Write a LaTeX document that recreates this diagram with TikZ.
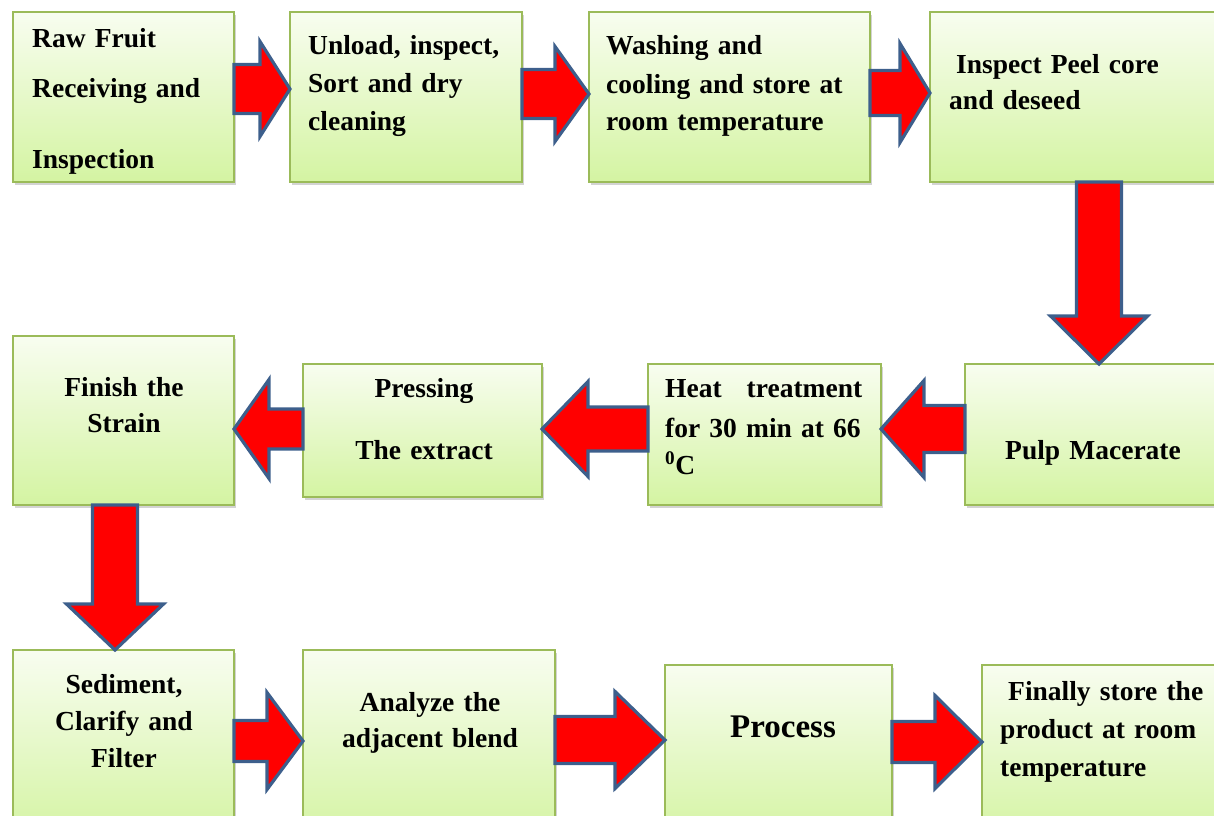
\documentclass[tikz,border=0pt]{standalone}
\usepackage{fontspec}
\setmainfont{Liberation Serif}
\usetikzlibrary{calc,shadows}
\definecolor{stepgreen}{RGB}{155,187,89}
\definecolor{steptop}{RGB}{248,253,240}
\definecolor{stepbottom}{RGB}{212,244,162}
\definecolor{flowred}{RGB}{255,0,0}
\definecolor{flowblue}{RGB}{61,95,140}

\begin{document}
\begin{tikzpicture}[x=1pt,y=-1pt,
  stepbox/.style={rectangle,anchor=north west,draw=stepgreen,line width=1.2pt,
    top color=steptop,bottom color=stepbottom,inner sep=0pt,outer sep=0pt,
    drop shadow={shadow xshift=1.5pt,shadow yshift=-2.5pt,opacity=.35}},
  steptext/.style={inner sep=0pt,text width=#1,font=\fontsize{27.5}{38}\selectfont\bfseries},
  steptext/.default=250pt,
  fat/.style n args={3}{draw=flowblue,fill=flowred,line width=3.2pt,
    to path={let \p1=(\tikztostart),\p2=(\tikztotarget),
      \n1={atan2(\y2-\y1,\x2-\x1)},\n2={veclen(\x2-\x1,\y2-\y1)-#3} in
      (\p1) ++(\n1+90:#1pt) -- ++(\n1:\n2) -- ++(\n1+90:#2pt-#1pt) -- (\p2)
      -- ($(\p2)+(\n1+180:#3pt)+(\n1-90:#2pt)$) -- ++(\n1+90:#2pt-#1pt)
      -- ++(\n1+180:\n2) -- cycle}}
]
\useasboundingbox (0,0) rectangle (1214,815);

% boxes, row by row
\node[stepbox,minimum width=221pt,minimum height=170pt] (b1) at (13,12) {};
\node[stepbox,minimum width=232pt,minimum height=170pt] (b2) at (290,12) {};
\node[stepbox,minimum width=281pt,minimum height=170pt] (b3) at (589,12) {};
\node[stepbox,minimum width=300pt,minimum height=170pt] (b4) at (930,12) {};
\node[stepbox,minimum width=221pt,minimum height=169pt] (b5) at (13,336) {};
\node[stepbox,minimum width=239pt,minimum height=133pt] (b6) at (303,364) {};
\node[stepbox,minimum width=233pt,minimum height=141pt] (b7) at (648,364) {};
\node[stepbox,minimum width=270pt,minimum height=141pt] (b8) at (965,364) {};
\node[stepbox,minimum width=221pt,minimum height=190pt] (b9) at (13,650) {};
\node[stepbox,minimum width=252pt,minimum height=190pt] (b10) at (303,650) {};
\node[stepbox,minimum width=227pt,minimum height=175pt] (b11) at (665,665) {};
\node[stepbox,minimum width=260pt,minimum height=175pt] (b12) at (982,665) {};

% texts
\node[steptext,anchor=base west,align=left] (t1) at (32,47)
  {Raw Fruit\\[12pt]Receiving and\\[33pt]Inspection};
\node[steptext,anchor=base west,align=left] (t2) at (308,54)
  {Unload, inspect,\\Sort and dry\\cleaning};
\node[steptext,anchor=base west,align=left] (t3) at (606,54)
  {Washing and\\[1pt]cooling and store at\\[-1pt]room temperature};
\node[steptext,anchor=base west,align=left] (t4) at (949,73)
  {\hspace*{7pt}Inspect Peel core\\[-2pt]and deseed};
\node[steptext=200pt,anchor=base,align=center] (t5) at (124,396)
  {Finish the\\[-2pt]Strain};
\node[steptext=220pt,anchor=base,align=center] (t6) at (424,397)
  {Pressing\\[24pt]The extract};
\node[steptext=197pt,anchor=base west,align=left] (t7) at (665,397)
  {\makebox[197pt][s]{Heat\hfill treatment}\\[2pt]\makebox[197pt][s]{for 30 min at 66}\\[-1pt]\textsuperscript{0}C};
\node[steptext=230pt,anchor=base,align=center] (t8) at (1093,459)
  {Pulp Macerate};
\node[steptext=200pt,anchor=base,align=center] (t9) at (124,693)
  {Sediment,\\[-1pt]Clarify and\\[-1pt]Filter};
\node[steptext=230pt,anchor=base,align=center] (t10) at (430,711)
  {Analyze the\\[-2pt]adjacent blend};
\node[steptext=200pt,anchor=base,align=center,font=\fontsize{33}{40}\selectfont\bfseries] (t11) at (783,737)
  {Process};
\node[steptext=214pt,anchor=base west,align=left] (t12) at (1000,700)
  {\hspace*{8pt}Finally store the\\product at room\\temperature};

% block arrows
\draw[fat={24.5}{47.5}{30}] (b1.east |- 0,89) to (b2.west |- 0,89);
\draw[fat={24.5}{47.5}{34}] (b2.east |- 0,94) to (b3.west |- 0,94);
\draw[fat={22.5}{49.5}{30}] (b3.east |- 0,93) to (b4.west |- 0,93);
\draw[fat={22.5}{48.5}{48}] (b4.south -| 1099,0) to (b8.north -| 1099,0);
\draw[fat={23.5}{48.5}{43}] (b8.west |- 0,429) to (b7.east |- 0,429);
\draw[fat={22}{47.5}{46}] (b7.west |- 0,429) to (b6.east |- 0,429);
\draw[fat={20}{49.5}{35}] (b6.west |- 0,429) to (b5.east |- 0,429);
\draw[fat={22.5}{48.5}{46}] (b5.south -| 115,0) to (b9.north -| 115,0);
\draw[fat={20.5}{48.5}{36}] (b9.east |- 0,741) to (b10.west |- 0,741);
\draw[fat={23.5}{48.5}{50}] (b10.east |- 0,740) to (b11.west |- 0,740);
\draw[fat={20.5}{46.5}{47}] (b11.east |- 0,742) to (b12.west |- 0,742);
\end{tikzpicture}
\end{document}
